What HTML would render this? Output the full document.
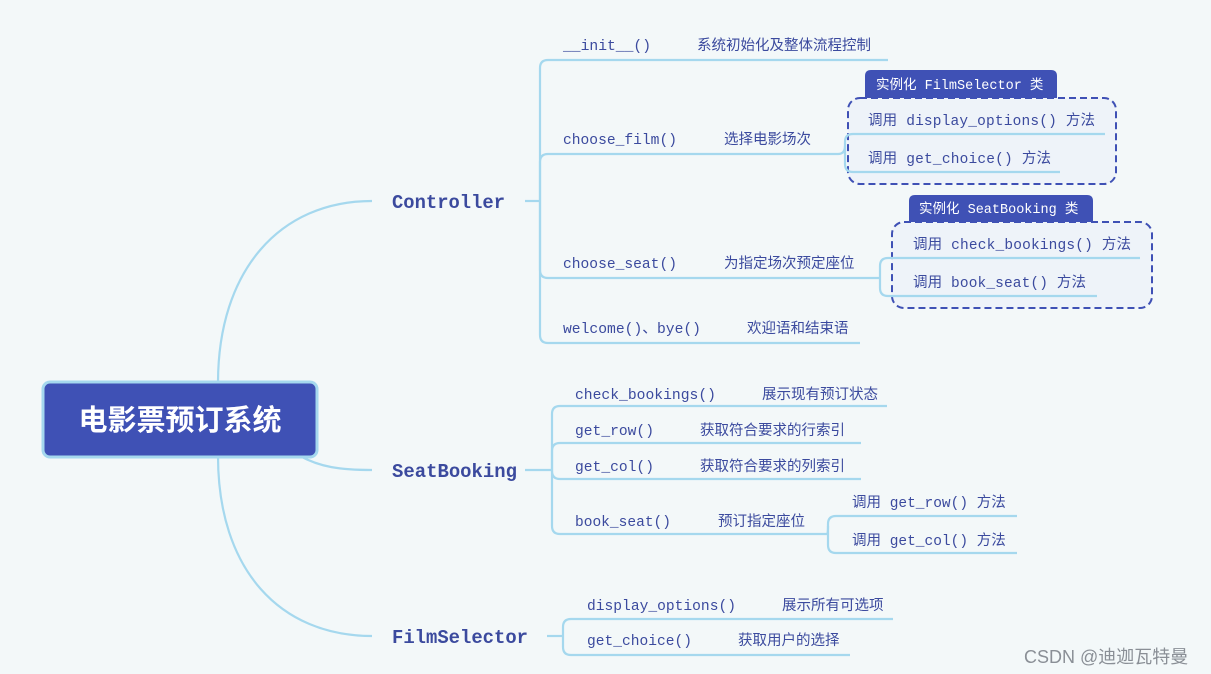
<!DOCTYPE html>
<html><head><meta charset="utf-8"><style>
html,body{margin:0;padding:0;background:#f3f8f9;}
svg{display:block}
.m{font-family:"Liberation Mono","Noto Sans CJK SC",monospace;fill:#3b4a9e;font-size:14.5px;}
.c{font-family:"Liberation Sans","Noto Sans CJK SC",sans-serif;fill:#3b4a9e;font-size:14.5px;}
.b{font-family:"Liberation Mono",monospace;fill:#3b4a9e;font-size:19px;font-weight:bold;}
.w{font-family:"Liberation Mono","Noto Sans CJK SC",monospace;fill:#fff;font-size:13.5px;}
.l{fill:none;stroke:#a5d8ee;stroke-width:2.2;}
</style></head><body>
<svg width="1211" height="674" viewBox="0 0 1211 674" xmlns="http://www.w3.org/2000/svg">
<rect width="1211" height="674" fill="#f3f8f9"/>
<path class="l" d="M218,383 C218,270 280,201 372,201" stroke-width="3"/>
<path class="l" d="M218,456 C218,570 280,636 372,636" stroke-width="3"/>
<path class="l" d="M300,456 C320,467 340,470 372,470" stroke-width="3"/>
<rect x="43" y="382" width="274" height="75" rx="7" fill="#3f51b5" stroke="#a5d8ee" stroke-width="3"/>
<text x="180" y="430" text-anchor="middle" style="font-family:'Noto Sans CJK SC',sans-serif;font-size:29px;font-weight:bold;fill:#fff">电影票预订系统</text>

<text class="b" x="392" y="208" textLength="113" lengthAdjust="spacingAndGlyphs">Controller</text>
<path class="l" d="M525,201 H540"/>
<path class="l" d="M540,201 V68 Q540,60 548,60 H888"/>
<path class="l" d="M540,201 V162 Q540,154 548,154 H838"/>
<path class="l" d="M540,201 V270 Q540,278 548,278 H880"/>
<path class="l" d="M540,201 V335 Q540,343 548,343 H860"/>
<text class="m" x="563" y="50" textLength="88" lengthAdjust="spacingAndGlyphs">__init__()</text>
<text class="c" x="697" y="50">系统初始化及整体流程控制</text>
<text class="m" x="563" y="144" textLength="114" lengthAdjust="spacingAndGlyphs">choose_film()</text>
<text class="c" x="724" y="144">选择电影场次</text>
<text class="m" x="563" y="268" textLength="114" lengthAdjust="spacingAndGlyphs">choose_seat()</text>
<text class="c" x="724" y="268">为指定场次预定座位</text>
<text class="m" x="563" y="333" textLength="138" lengthAdjust="spacingAndGlyphs">welcome()、bye()</text>
<text class="c" x="747" y="333">欢迎语和结束语</text>

<rect x="848" y="98" width="268" height="86" rx="12" fill="#eef3f9" stroke="#3f51b5" stroke-width="2" stroke-dasharray="7,4"/>
<path d="M865,98 V76 Q865,70 871,70 H1051 Q1057,70 1057,76 V98 Z" fill="#3f51b5"/>
<text class="w" x="876" y="89">实例化 FilmSelector 类</text>
<path class="l" d="M838,154 Q845,154 845,146 V142 Q845,134 853,134 H1105"/>
<path class="l" d="M845,146 V164 Q845,172 853,172 H1060"/>
<text class="m" x="868" y="125" textLength="227" lengthAdjust="spacing">调用 display_options() 方法</text>
<text class="m" x="868" y="163" textLength="183" lengthAdjust="spacing">调用 get_choice() 方法</text>

<rect x="892" y="222" width="260" height="86" rx="12" fill="#eef3f9" stroke="#3f51b5" stroke-width="2" stroke-dasharray="7,4"/>
<path d="M909,222 V201 Q909,195 915,195 H1087 Q1093,195 1093,201 V222 Z" fill="#3f51b5"/>
<text class="w" x="919" y="213">实例化 SeatBooking 类</text>
<path class="l" d="M880,278 V266 Q880,258 888,258 H1140"/>
<path class="l" d="M880,278 V288 Q880,296 888,296 H1097"/>
<text class="m" x="913" y="249" textLength="218" lengthAdjust="spacing">调用 check_bookings() 方法</text>
<text class="m" x="913" y="287" textLength="173" lengthAdjust="spacing">调用 book_seat() 方法</text>

<text class="b" x="392" y="477" textLength="125" lengthAdjust="spacingAndGlyphs">SeatBooking</text>
<path class="l" d="M525,470 H552"/>
<path class="l" d="M552,470 V414 Q552,406 560,406 H887"/>
<path class="l" d="M552,470 V451 Q552,443 560,443 H861"/>
<path class="l" d="M552,470 V471 Q552,479 560,479 H861"/>
<path class="l" d="M552,470 V526 Q552,534 560,534 H827"/>
<text class="m" x="575" y="399" textLength="141" lengthAdjust="spacingAndGlyphs">check_bookings()</text>
<text class="c" x="762" y="399">展示现有预订状态</text>
<text class="m" x="575" y="435" textLength="79" lengthAdjust="spacingAndGlyphs">get_row()</text>
<text class="c" x="700" y="435">获取符合要求的行索引</text>
<text class="m" x="575" y="471" textLength="79" lengthAdjust="spacingAndGlyphs">get_col()</text>
<text class="c" x="700" y="471">获取符合要求的列索引</text>
<text class="m" x="575" y="526" textLength="96" lengthAdjust="spacingAndGlyphs">book_seat()</text>
<text class="c" x="718" y="526">预订指定座位</text>
<path class="l" d="M827,534 Q828,534 828,526 V524 Q828,516 836,516 H1017"/>
<path class="l" d="M828,526 V545 Q828,553 836,553 H1017"/>
<text class="m" x="852" y="507">调用 get_row() 方法</text>
<text class="m" x="852" y="545">调用 get_col() 方法</text>

<text class="b" x="392" y="643" textLength="136" lengthAdjust="spacingAndGlyphs">FilmSelector</text>
<path class="l" d="M547,636 H563"/>
<path class="l" d="M563,636 V627 Q563,619 571,619 H893"/>
<path class="l" d="M563,636 V647 Q563,655 571,655 H850"/>
<text class="m" x="587" y="610" textLength="149" lengthAdjust="spacingAndGlyphs">display_options()</text>
<text class="c" x="782" y="610">展示所有可选项</text>
<text class="m" x="587" y="645" textLength="105" lengthAdjust="spacingAndGlyphs">get_choice()</text>
<text class="c" x="738" y="645">获取用户的选择</text>

<text x="1024" y="663" style="font-family:'Liberation Sans','Noto Sans CJK SC',sans-serif;font-size:18px;fill:#8a8f96">CSDN @迪迦瓦特曼</text>
</svg>
</body></html>
